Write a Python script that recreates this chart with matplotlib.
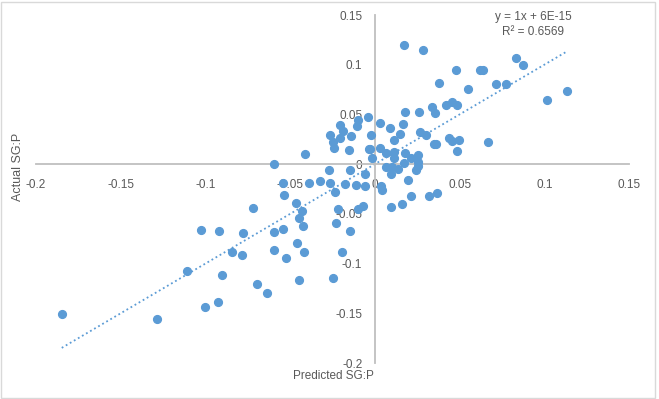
import matplotlib.pyplot as plt
from matplotlib.patches import Rectangle
import numpy as np

# predicted vs actual SG:P
predicted = [0.0174, 0.0283, 0.0831, 0.0872, 0.0480, 0.0620, 0.0638, 0.0381, 0.0717, 0.0772,
             0.0547, 0.1132, 0.1014, 0.0177, 0.0263, 0.0335, 0.0354, 0.0419, 0.0455, 0.0482,
             -0.0040, 0.0030, 0.0087, 0.0169, 0.0148, 0.0266, 0.0300, 0.0112, -0.0024, 0.0350,
             0.0362, 0.0438, 0.0453, 0.0499, 0.0665, 0.0482, -0.0037, -0.0027, 0.0030, 0.0063,
             0.0112, 0.0113, 0.0177, 0.0255, -0.0018, 0.0215, 0.0252, 0.0173, 0.0256, 0.0067,
             0.0099, 0.0139, 0.0243, 0.0094, -0.0058, -0.0146, -0.0269, 0.0197, 0.0034, 0.0041,
             0.0213, 0.0320, 0.0369, -0.0057, -0.0110, -0.0178, -0.0266, -0.0235, -0.0266, -0.0246,
             -0.0242, -0.0205, -0.0190, -0.0205, -0.0142, -0.0103, -0.0099, -0.0152, -0.0411, -0.0594,
             -0.0544, -0.0537, -0.0387, -0.0322, -0.0466, -0.0215, -0.0100, -0.0069, 0.0094, 0.0161,
             -0.0431, -0.0447, -0.0427, -0.0231, -0.0148, -0.0458, -0.0419, -0.0191, -0.0449, -0.0250,
             -0.0718, -0.1025, -0.0919, -0.0779, -0.0593, -0.0544, -0.0844, -0.0786, -0.0593, -0.0525,
             -0.1107, -0.0900, -0.0697, -0.0639, -0.1001, -0.0926, -0.1848, -0.1284]
actual = [0.1197, 0.1144, 0.1066, 0.0996, 0.0946, 0.0946, 0.0946, 0.0812, 0.0810, 0.0805,
          0.0752, 0.0739, 0.0649, 0.0523, 0.0526, 0.0576, 0.0510, 0.0591, 0.0627, 0.0591,
          0.0470, 0.0412, 0.0367, 0.0402, 0.0307, 0.0320, 0.0292, 0.0244, 0.0289, 0.0206,
          0.0204, 0.0260, 0.0236, 0.0241, 0.0223, 0.0134, 0.0156, 0.0156, 0.0159, 0.0114,
          0.0126, 0.0057, 0.0108, 0.0096, 0.0057, 0.0057, 0.0020, 0.0013, -0.0018, -0.0033,
          -0.0027, -0.0048, -0.0057, -0.0104, -0.0104, -0.0060, -0.0063, -0.0163, -0.0219, -0.0262,
          -0.0318, -0.0318, -0.0290, -0.0219, -0.0206, -0.0198, -0.0188, -0.0284, 0.0289, 0.0218,
          0.0161, 0.0389, 0.0337, 0.0264, 0.0284, 0.0382, 0.0445, 0.0146, 0.0101, 0.0005,
          -0.0193, -0.0307, -0.0188, -0.0171, -0.0395, -0.0455, -0.0456, -0.0426, -0.0431, -0.0400,
          -0.0470, -0.0543, -0.0621, -0.0587, -0.0671, -0.0798, -0.0882, -0.0888, -0.1167, -0.1145,
          -0.0445, -0.0664, -0.0676, -0.0689, -0.0681, -0.0657, -0.0880, -0.0915, -0.0867, -0.0943,
          -0.1076, -0.1114, -0.1204, -0.1295, -0.1437, -0.1391, -0.1512, -0.1559]

# trendline as reported by the chart
slope = 1.0
intercept = 6e-15

xticks = [-0.2, -0.15, -0.1, -0.05, 0, 0.05, 0.1, 0.15]
yticks = [-0.2, -0.15, -0.1, -0.05, 0, 0.05, 0.1, 0.15]

blue = '#5b9bd5'
grey_txt = '#595959'
axis_col = '#bfbfbf'

plt.rcParams['font.family'] = ['Liberation Sans', 'DejaVu Sans']

fig = plt.figure(figsize=(6.59, 3.99), dpi=100)
ax = fig.add_axes([36 / 659, 36 / 399, 593 / 659, 348 / 399])

ax.plot(predicted, actual, 'o', color=blue, markersize=5.6, markeredgecolor=blue, zorder=3)

tx = np.array([min(predicted), max(predicted)])
ax.plot(tx, slope * tx + intercept, color=blue, lw=1.3, linestyle=(0, (1, 1.6)), zorder=2)

ax.set_xlim(-0.2, 0.15)
ax.set_ylim(-0.2, 0.15)

# axes cross at zero, Excel style
for s in ['top', 'right']:
    ax.spines[s].set_visible(False)
ax.spines['left'].set_position(('data', 0))
ax.spines['bottom'].set_position(('data', 0))
for s in ['left', 'bottom']:
    ax.spines[s].set_color(axis_col)
    ax.spines[s].set_linewidth(1.3)

ax.set_xticks(xticks)
ax.set_yticks(yticks)
ax.set_xticklabels(['-0.2', '-0.15', '-0.1', '-0.05', '0', '0.05', '0.1', '0.15'])
ax.set_yticklabels(['-0.2', '-0.15', '-0.1', '-0.05', '0', '0.05', '0.1', '0.15'])
ax.tick_params(length=0, labelsize=8.5, labelcolor=grey_txt)
ax.tick_params(axis='x', pad=11)
ax.tick_params(axis='y', pad=9)

fig.text(18 / 659, 1 - 167 / 399, 'Actual SG:P', rotation=90, ha='center', va='center',
         fontsize=9, color=grey_txt)
fig.text(333 / 659, 1 - 376 / 399, 'Predicted SG:P', ha='center', va='center',
         fontsize=8.5, color=grey_txt)

fig.text(533 / 659, 1 - 17 / 399, 'y = 1x + 6E-15', ha='center', va='center',
         fontsize=8.5, color=grey_txt)
fig.text(533 / 659, 1 - 32 / 399, 'R² = 0.6569', ha='center', va='center',
         fontsize=8.5, color=grey_txt)

# chart area border
fig.patches.append(Rectangle((1 / 659, 1.5 / 399), 654 / 659, 396 / 399, transform=fig.transFigure,
                             fill=False, edgecolor='#d9d9d9', lw=1))

fig.savefig('out.png', dpi=100)
